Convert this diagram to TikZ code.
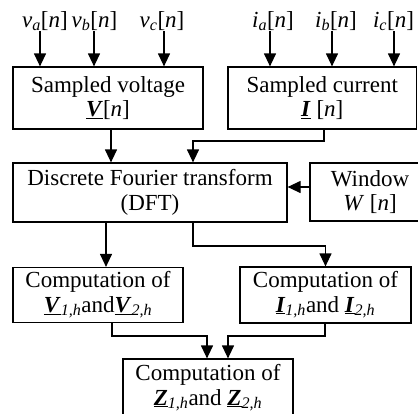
\documentclass[tikz,border=0pt]{standalone}
\usepackage{fontspec}
\setmainfont{Liberation Serif}
\usetikzlibrary{arrows.meta}
\newcommand{\ubi}[1]{\underline{\textbf{\textit{#1}}}}
\newcommand{\sbi}[1]{\textsubscript{\textit{#1}}}
\begin{document}
\begin{tikzpicture}[x=1pt,y=-1pt,
  box/.style={draw, line width=1.2pt, align=center, inner sep=0pt,
    font=\fontsize{23}{24.5}\selectfont},
  lbl/.style={inner sep=0pt, anchor=base, font=\fontsize{23}{24}\selectfont},
  arr/.style={line width=1.2pt, -{Triangle[length=13pt,width=12pt]}}]
\useasboundingbox (0,0) rectangle (418,413);
\clip (0,0) rectangle (418,413);
% boxes
\node[box, minimum width=190pt, minimum height=62pt] (sv) at (108,98)
  {Sampled voltage\\\ubi{V}[\textit{n}]};
\node[box, minimum width=188.5pt, minimum height=62pt] (sc) at (322.25,98)
  {Sampled current\\\ubi{I} [\textit{n}]};
\node[box, minimum width=274pt, minimum height=59pt] (dft) at (150,192.5)
  {Discrete Fourier transform\\(DFT)};
\node[box, minimum width=120pt, minimum height=58pt] (win) at (370,192)
  {Window\\\textit{W} [\textit{n}]};
\node[box, minimum width=170pt, minimum height=55pt] (cv) at (98,295)
  {Computation of\\\ubi{V}\sbi{1,h}and\ubi{V}\sbi{2,h}};
\node[box, minimum width=171pt, minimum height=56pt] (ci) at (325.5,295)
  {Computation of\\\ubi{I}\sbi{1,h}and \ubi{I}\sbi{2,h}};
\node[box, minimum width=170pt, minimum height=58pt] (z) at (208,388)
  {Computation of\\\ubi{Z}\sbi{1,h}and \ubi{Z}\sbi{2,h}};
% input labels
\node[lbl] (va) at (45,27) {\textit{v}\sbi{a}[\textit{n}]};
\node[lbl] (vb) at (94.5,27) {\textit{v}\sbi{b}[\textit{n}]};
\node[lbl] (vc) at (162,27) {\textit{v}\sbi{c}[\textit{n}]};
\node[lbl] (ia) at (273,27) {\textit{i}\sbi{a}[\textit{n}]};
\node[lbl] (ib) at (336,27) {\textit{i}\sbi{b}[\textit{n}]};
\node[lbl] (ic) at (393.5,27) {\textit{i}\sbi{c}[\textit{n}]};
% x positions of the input arrows
\coordinate (xa) at (40,0);
\coordinate (xb) at (94,0);
\coordinate (xc) at (164,0);
\coordinate (xd) at (270,0);
\coordinate (xe) at (332,0);
\coordinate (xf) at (394,0);
\draw[arr] (va.south -| xa) -- (sv.north -| xa);
\draw[arr] (vb.south -| xb) -- (sv.north -| xb);
\draw[arr] (vc.south -| xc) -- (sv.north -| xc);
\draw[arr] (ia.south -| xd) -- (sc.north -| xd);
\draw[arr] (ib.south -| xe) -- (sc.north -| xe);
\draw[arr] (ic.south -| xf) -- (sc.north -| xf);
% into DFT
\coordinate (p1) at (111,0);
\draw[arr] (sv.south -| p1) -- (dft.north -| p1);
\coordinate (j0) at (324,141);
\coordinate (j1) at (193,141);
\draw[arr] (sc.south -| j0) -- (j0) -- (j1) -- (dft.north -| j1);
\draw[arr] ([yshift=5pt]win.west) -- ([yshift=5pt]win.west -| dft.east);
% out of DFT
\coordinate (q1) at (106,0);
\draw[arr] (dft.south -| q1) -- (cv.north -| q1);
\coordinate (k1) at (193,246);
\draw[arr] (dft.south -| k1) -- (k1) -| (ci.north);
% into Z
\coordinate (m1) at (112,336);
\coordinate (m2) at (207,336);
\draw[arr] (cv.south -| m1) -- (m1) -- (m2) -- (z.north -| m2);
\coordinate (n1) at (325,336);
\coordinate (n2) at (228,336);
\draw[arr] (ci.south -| n1) -- (n1) -- (n2) -- (z.north -| n2);
\end{tikzpicture}
\end{document}
